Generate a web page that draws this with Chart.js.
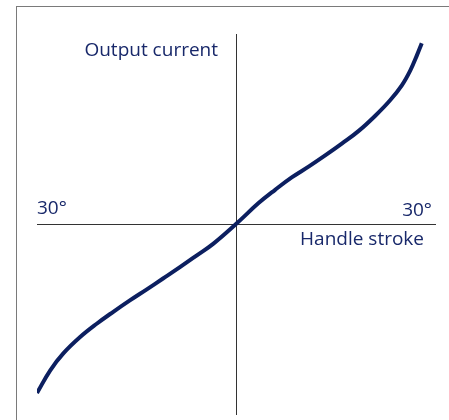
<!DOCTYPE html>
<html>
<head>
<meta charset="utf-8">
<script src="https://cdn.jsdelivr.net/npm/chart.js@4/dist/chart.umd.min.js"></script>
<style>
  body { margin: 0; background: #fff; }
  #wrap { position: relative; width: 449px; height: 420px; }
  #frame {
    position: absolute; left: 16px; top: 6px; width: 433px; height: 414px;
    border-top: 1px solid #7a7a7a; border-left: 1px solid #7a7a7a;
  }
  canvas { position: absolute; left: 0; top: 0; }
</style>
</head>
<body>
<div id="wrap">
  <div id="frame"></div>
  <canvas id="myChart" width="449" height="420"></canvas>
</div>
<script>
// handle stroke in degrees, output current relative
var strokeDeg = [-30, -28, -26, -23.5, -21, -18.5, -16, -13.5, -11, -8.4, -5.9, -3.4, 0,
                 3.4, 5.9, 8.4, 11, 13.5, 16, 18.5, 21, 23.2, 25, 26.3, 27.3, 28];
var current = [-0.89, -0.77, -0.68, -0.595, -0.525, -0.462, -0.402, -0.345, -0.287, -0.226, -0.165, -0.103, 0,
               0.11, 0.18, 0.245, 0.303, 0.362, 0.424, 0.49, 0.57, 0.65, 0.73, 0.81, 0.89, 0.951];
var xTickLabels = ['30°', '30°'];
var xTitle = 'Handle stroke';
var yTitle = 'Output current';

var points = [];
for (var i = 0; i < strokeDeg.length; i++) {
    points.push({x: strokeDeg[i], y: current[i]});
}

var textColor = '#18286a';

var labelsPlugin = {
    id: 'labels',
    afterDraw: function(chart) {
        var ctx = chart.ctx;
        var xs = chart.scales.x;
        var ys = chart.scales.y;
        var x0 = xs.getPixelForValue(0);
        var y0 = ys.getPixelForValue(0);
        ctx.save();
        ctx.fillStyle = textColor;
        ctx.font = '19px "Open Sans"';
        ctx.textBaseline = 'alphabetic';
        ctx.textAlign = 'left';
        ctx.fillText(xTickLabels[0], xs.getPixelForValue(-30), y0 - 10);
        ctx.textAlign = 'right';
        ctx.fillText(xTickLabels[1], xs.getPixelForValue(30) - 3, y0 - 8);
        ctx.fillText(xTitle, xs.getPixelForValue(30) - 11, y0 + 21);
        ctx.fillText(yTitle, x0 - 18, ys.getPixelForValue(1) + 22);
        ctx.restore();
    }
};

var config = {
    type: 'line',
    data: {
        datasets: [{
            data: points,
            borderColor: '#0c1f60',
            borderWidth: 4,
            borderCapStyle: 'butt',
            pointRadius: 0,
            fill: false,
            tension: 0.4
        }]
    },
    options: {
        responsive: false,
        animation: false,
        layout: { padding: { left: 37, right: 14, top: 34, bottom: 6 } },
        plugins: { legend: { display: false }, tooltip: { enabled: false } },
        scales: {
            x: {
                type: 'linear', min: -30, max: 30,
                position: { y: 0 },
                ticks: { display: false },
                grid: { display: false },
                border: { display: true, color: '#333333', width: 1 }
            },
            y: {
                type: 'linear', min: -1, max: 1,
                position: { x: 0 },
                ticks: { display: false },
                grid: { display: false },
                border: { display: true, color: '#333333', width: 1 }
            }
        }
    },
    plugins: [labelsPlugin]
};

var myChart = new Chart(document.getElementById('myChart').getContext('2d'), config);
</script>
</body>
</html>
